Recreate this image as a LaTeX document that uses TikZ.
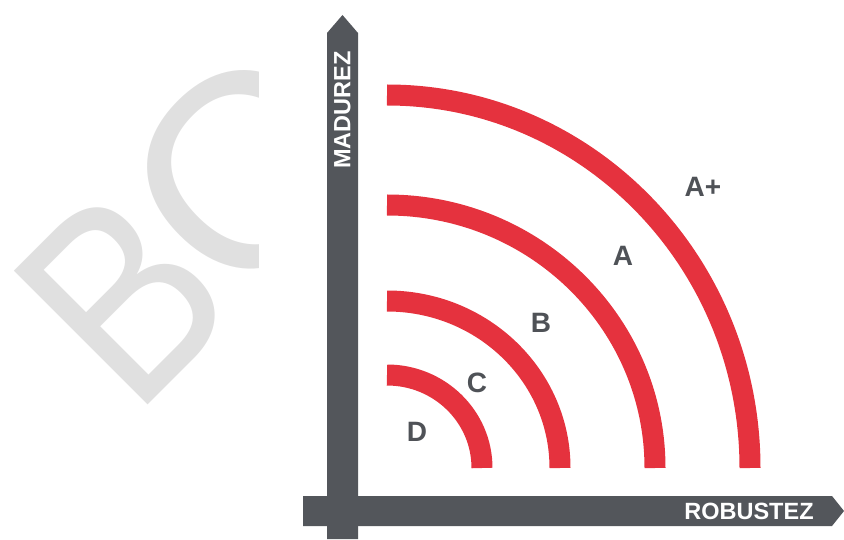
\documentclass[tikz,border=0pt]{standalone}
\usepackage{fontspec}
\setmainfont{Liberation Sans}
\usetikzlibrary{positioning,calc}
\definecolor{bandred}{HTML}{E5323E}
\definecolor{axisgray}{HTML}{53565B}
\definecolor{labelgray}{HTML}{4F5257}
\definecolor{markgray}{HTML}{E0E0E0}

\begin{document}
\begin{tikzpicture}[
    x=1pt, y=1pt,
    axis/.style={fill=axisgray, draw=none},
    band/.style={draw=bandred, line width=21pt},
    grade/.style={text=labelgray, font=\fontsize{28}{28}\selectfont\bfseries, inner sep=0pt},
    axislabel/.style={text=white, font=\fontsize{23.5}{23.5}\selectfont\bfseries, inner sep=0pt},
    wmark/.style={text=markgray, font=\fontsize{275}{275}\selectfont, rotate=45, inner sep=0pt}
]
    \useasboundingbox (0,0) rectangle (844,539);

    % Watermark
    \begin{scope}
        \clip (0,0) rectangle (258,539);
        \node[wmark, xscale=0.85, anchor=base west] (markb) at (134,120) {B};
        \node[wmark] (marko) at (247,369) {O};
    \end{scope}

    % Axes
    \fill[axis] (303,13) -- (832,13) -- (844,28) -- (832,43) -- (303,43) -- cycle;
    \fill[axis] (327,0) -- (327,506) -- (342.5,524) -- (358,506) -- (358,0) -- cycle;
    \node[axislabel, rotate=90] (mad) at (342.5,429) {MADUREZ};
    \node[axislabel] (rob) at (749,27.5) {ROBUSTEZ};

    % Bands
    \coordinate (o) at (387,71);
    \draw[band] ($(o)+(0,373)$) arc[start angle=90, end angle=0, x radius=363pt, y radius=373pt];
    \draw[band] ($(o)+(0,263)$) arc[start angle=90, end angle=0, x radius=268pt, y radius=263pt];
    \draw[band] ($(o)+(0,167)$) arc[start angle=90, end angle=0, x radius=173pt, y radius=167pt];
    \draw[band] ($(o)+(0,93)$) arc[start angle=90, end angle=0, x radius=95pt, y radius=93pt];

    % Grades
    \node[grade] (aplus) at (703,352) {A+};
    \node[grade] (a) at (623,283) {A};
    \node[grade] (b) at (541,216) {B};
    \node[grade] (c) at (477,156) {C};
    \node[grade] (d) at (417,107) {D};

\end{tikzpicture}
\end{document}
